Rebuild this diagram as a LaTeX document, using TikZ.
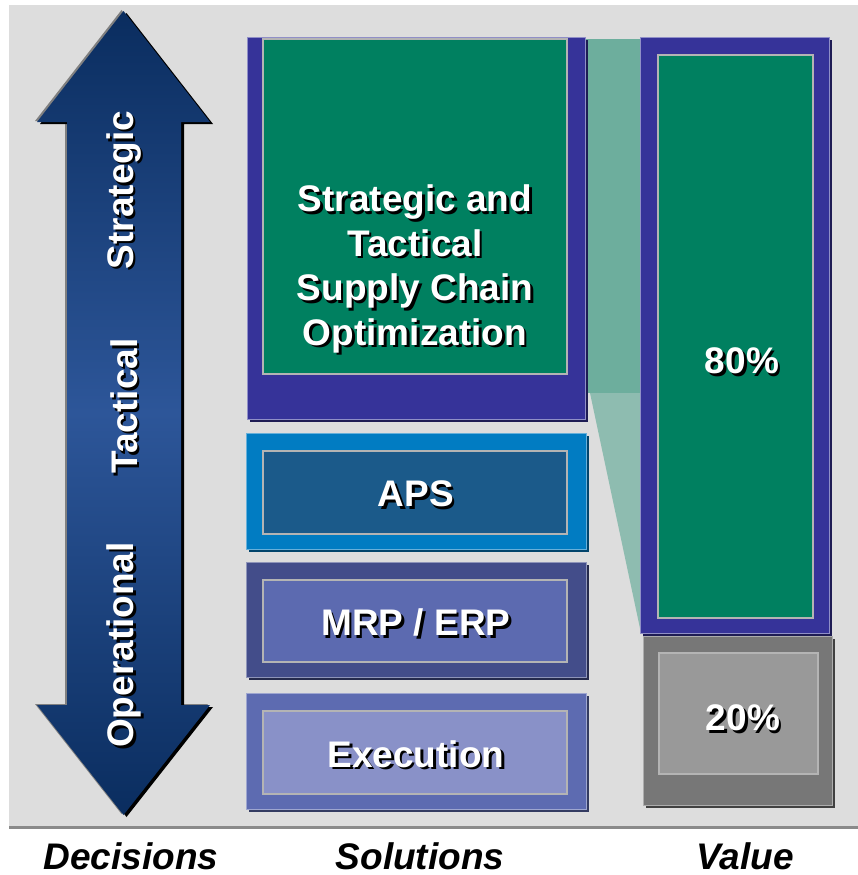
\documentclass[tikz,border=0pt]{standalone}
\usepackage{fontspec}
\setmainfont{Liberation Sans}
\usetikzlibrary{calc}
\definecolor{panel}{HTML}{DDDDDD}
\definecolor{rule}{HTML}{8A8A8A}
\definecolor{navy}{HTML}{0A2D5F}
\definecolor{midblue}{HTML}{2D5699}
\definecolor{indigo}{HTML}{363399}
\definecolor{forest}{HTML}{008060}
\definecolor{wedge}{HTML}{6DAE9D}
\definecolor{frame}{HTML}{B4B4B4}
\definecolor{apsout}{HTML}{017CC2}
\definecolor{apsin}{HTML}{1B5A8A}
\definecolor{mrpout}{HTML}{434D8A}
\definecolor{mrpin}{HTML}{5C6AB0}
\definecolor{exeout}{HTML}{5D6BB1}
\definecolor{exein}{HTML}{8991C8}
\definecolor{restout}{HTML}{777777}
\definecolor{restin}{HTML}{999999}

\tikzset{
  lbl/.style={text=white,font=\bfseries\fontsize{37}{44.5}\selectfont,align=center,inner sep=0pt},
  axislbl/.style={text=black,font=\bfseries\itshape\fontsize{37}{44}\selectfont,inner sep=0pt}
}
\newcommand\shadowlabel[4]{%
  \node[lbl,#2,text=black] (#1-sh) at ($(#3)+(2.5,2.5)$) {#4};
  \node[lbl,#2] (#1) at (#3) {#4};}

\begin{document}
\begin{tikzpicture}[x=1pt,y=-1pt]
  \useasboundingbox (0,0) rectangle (858,875);
  \path[fill=white] (0,0) rectangle (858,875);
  \path[fill=panel] (9,5) rectangle (858,826);
  \draw[rule,line width=3pt] (9,827) -- (858,827);

  % Decisions: double arrow from strategic down to operational.
  \def\arrowshape{(123.5,11) -- (210,122) -- (181,122) -- (181,705) -- (210,705)
    -- (123.5,815) -- (37,705) -- (67,705) -- (67,122) -- (37,122) -- cycle}
  \path[fill=gray,shift={(-2,-1)}] \arrowshape;
  \path[fill=black,shift={(3,2)}] \arrowshape;
  \path[top color=navy,bottom color=navy,middle color=midblue] \arrowshape;
  \shadowlabel{strategic}{rotate=90}{124,190}{Strategic}
  \shadowlabel{tactical}{rotate=90}{124,406}{Tactical}
  \shadowlabel{operational}{rotate=90}{124,645}{Operational}

  % Wedge linking the optimization block to its share of value.
  \path[fill=wedge] (585,39) rectangle (641,393);
  \path[fill=wedge,opacity=.7] (590,393) -- (641,393) -- (641,633) -- cycle;

  % Optimization block.
  \path[fill=indigo!55!black] (250,40) rectangle (588,422);
  \path[fill=indigo,draw=indigo!55!white,line width=.6pt] (247,37) rectangle (585,419);
  \path[fill=forest,draw=frame,line width=1.6pt] (263,39) rectangle (567,374);
  \shadowlabel{sco}{}{415,269}{Strategic and\\Tactical\\Supply Chain\\Optimization}

  % Solution layers below the optimization block.
  \foreach \n/\ya/\yb/\oc/\ic/\lab in {aps/433/549/apsout/apsin/APS,
      mrp/562/677/mrpout/mrpin/{MRP / ERP},
      exe/693/809/exeout/exein/Execution} {
    \path[fill=\oc!55!black] (249,\ya+3) rectangle (589,\yb+3);
    \path[fill=\oc,draw=\oc!60!white,line width=.6pt] (246,\ya) rectangle (586,\yb);
    \path[fill=\ic,draw=frame,line width=1.6pt] (263,\ya+18) rectangle (567,\yb-15);
    \shadowlabel{\n}{}{416,{(\ya+\yb)/2+3}}{\lab}
  }

  % Value bars.
  \path[fill=indigo!55!black] (643,40) rectangle (832,636);
  \path[fill=indigo,draw=indigo!55!white,line width=.6pt] (640,37) rectangle (829,633);
  \path[fill=forest,draw=frame,line width=1.6pt] (658,55) rectangle (813,618);
  \shadowlabel{share80}{}{742,361}{80\%}
  \path[fill=restout!55!black] (646,639) rectangle (835,808);
  \path[fill=restout,draw=restout!60!white,line width=.6pt] (643,636) rectangle (832,805);
  \path[fill=restin,draw=frame,line width=1.6pt] (659,653) rectangle (818,774);
  \shadowlabel{share20}{}{743,718}{20\%}

  % Column titles.
  \node[axislbl] (decisions) at (131,856) {Decisions};
  \node[axislbl] (solutions) at (420,856) {Solutions};
  \node[axislbl] (value) at (745,856) {Value};
\end{tikzpicture}
\end{document}
